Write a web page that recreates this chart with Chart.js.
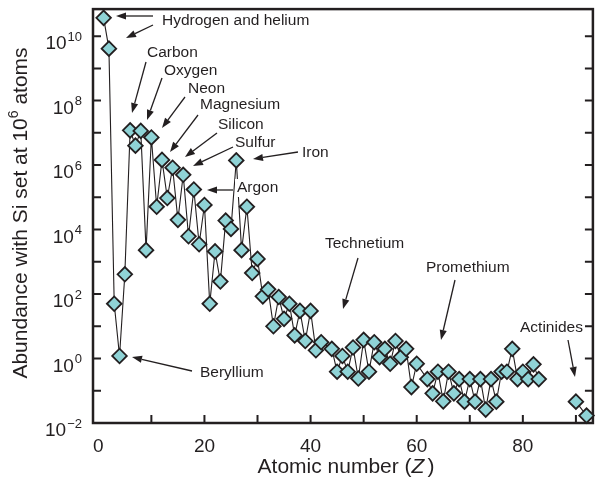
<!DOCTYPE html>
<html>
<head>
<meta charset="utf-8">
<script src="https://cdn.jsdelivr.net/npm/chart.js@4/dist/chart.umd.min.js"></script>
<style>
  body { margin: 0; background: #fff; }
  canvas { display: block; }
</style>
</head>
<body>
<canvas id="abundance" width="602" height="483"></canvas>
<script>
// Solar-system abundances, Si = 10^6 atoms. Tc (43) and Pm (61) have none.
const atomicNumbers = [
  1, 2, 3, 4, 5, 6, 7, 8, 9, 10, 11, 12, 13, 14, 15, 16, 17, 18, 19, 20,
  21, 22, 23, 24, 25, 26, 27, 28, 29, 30, 31, 32, 33, 34, 35, 36, 37, 38, 39, 40,
  41, 42, 44, 45, 46, 47, 48, 49, 50, 51, 52, 53, 54, 55, 56, 57, 58, 59, 60,
  62, 63, 64, 65, 66, 67, 68, 69, 70, 71, 72, 73, 74, 75, 76, 77, 78, 79, 80,
  81, 82, 83, 90, 92
];
const abundances = [
  3.7e10, 4.1e9, 50, 1.2, 410, 1.2e7, 4.0e6, 1.15e7, 2300, 7.2e6,
  5.1e4, 1.45e6, 9.5e4, 8.3e5, 2.0e4, 5.0e5, 6200, 1.75e5, 3500, 5.8e4,
  50, 2100, 245, 1.9e4, 1.05e4, 1.4e6, 2300, 5.1e4, 450, 1230,
  85, 140, 10, 81, 17, 50, 5.2, 30, 3.5, 30,
  1.8, 3.2, 2.0, 0.39, 1.2, 0.39, 2.2, 0.24, 3.8, 0.39,
  3.2, 1.1, 2.0, 0.69, 3.5, 1.1, 2.0, 0.13, 0.69,
  0.23, 0.083, 0.39, 0.047, 0.39, 0.083, 0.23, 0.046, 0.23, 0.046,
  0.23, 0.026, 0.23, 0.046, 0.39, 0.39, 2.0, 0.23, 0.39,
  0.23, 0.66, 0.23, 0.046, 0.017
];

const xTicks = [0, 20, 40, 60, 80];
const yTickExponents = [-2, 0, 2, 4, 6, 8, 10];

// callouts: text (left, middle) and arrows [fromX, fromY, toX, toY]
const callouts = [
  { text: 'Hydrogen and helium', x: 162, y: 21, arrows: [[153, 16, 116, 16], [153, 25, 126, 38]] },
  { text: 'Carbon', x: 147, y: 53, arrows: [[146, 62, 132, 113]] },
  { text: 'Oxygen', x: 164, y: 71, arrows: [[162, 78, 147, 120]] },
  { text: 'Neon', x: 188, y: 89, arrows: [[185, 97, 162, 128]] },
  { text: 'Magnesium', x: 200, y: 105, arrows: [[198, 115, 170, 152]] },
  { text: 'Silicon', x: 218, y: 125, arrows: [[217, 133, 185, 157]] },
  { text: 'Sulfur', x: 235, y: 143, arrows: [[233, 147, 193, 166]] },
  { text: 'Iron', x: 302, y: 153, arrows: [[298, 152, 253, 159]] },
  { text: 'Argon', x: 237, y: 188, arrows: [[233, 190, 207, 190]] },
  { text: 'Technetium', x: 325, y: 244, arrows: [[358, 258, 343, 309]] },
  { text: 'Promethium', x: 426, y: 268, arrows: [[455, 280, 441, 340]] },
  { text: 'Actinides', x: 520, y: 328, arrows: [[568, 340, 575, 377]] },
  { text: 'Beryllium', x: 200, y: 373, arrows: [[192, 371, 132, 357]] }
];

const ink = '#231f20';
const face = 'Liberation Sans, Arial, Helvetica, sans-serif';

// break the line across the missing run between Bi and Th
const points = [];
atomicNumbers.forEach((z, i) => {
  if (i > 0 && z - atomicNumbers[i - 1] > 2) points.push({ x: z - 1, y: null });
  points.push({ x: z, y: abundances[i] });
});

function arrow(ctx, x1, y1, x2, y2) {
  const a = Math.atan2(y2 - y1, x2 - x1);
  const len = 10, half = 3.6;
  const bx = x2 - len * Math.cos(a), by = y2 - len * Math.sin(a);
  ctx.beginPath();
  ctx.moveTo(x1, y1);
  ctx.lineTo(bx, by);
  ctx.stroke();
  ctx.beginPath();
  ctx.moveTo(x2, y2);
  ctx.lineTo(bx + half * Math.sin(a), by - half * Math.cos(a));
  ctx.lineTo(bx - half * Math.sin(a), by + half * Math.cos(a));
  ctx.closePath();
  ctx.fill();
}

// draws "base" followed by a raised superscript, right edge at x
function powerLabel(ctx, base, sup, right, y) {
  ctx.font = '19px ' + face;
  const wb = ctx.measureText(base).width;
  ctx.font = '13px ' + face;
  const ws = ctx.measureText(sup).width;
  const left = right - wb - ws - 1;
  ctx.textAlign = 'left';
  ctx.textBaseline = 'middle';
  ctx.font = '19px ' + face;
  ctx.fillText(base, left, y + 8);
  ctx.font = '13px ' + face;
  ctx.fillText(sup, left + wb + 1, y + 1);
}

const frame = {
  id: 'frame',
  beforeDatasetsDraw(chart) {
    const { ctx, chartArea: a, scales: { x, y } } = chart;
    ctx.save();
    ctx.strokeStyle = ink;
    ctx.fillStyle = ink;
    ctx.lineWidth = 2;
    ctx.beginPath();
    for (let t = 10; t < 93; t += 10) {
      const px = x.getPixelForValue(t);
      ctx.moveTo(px, a.bottom);
      ctx.lineTo(px, a.bottom - 8);
    }
    for (let e = -1; e <= 10; e++) {
      const py = y.getPixelForValue(Math.pow(10, e));
      ctx.moveTo(a.left, py);
      ctx.lineTo(a.left + 8, py);
      ctx.moveTo(a.right, py);
      ctx.lineTo(a.right - 8, py);
    }
    ctx.stroke();
    ctx.lineWidth = 2.5;
    ctx.strokeRect(a.left, a.top, a.right - a.left, a.bottom - a.top);

    ctx.font = '19px ' + face;
    ctx.textAlign = 'center';
    ctx.textBaseline = 'middle';
    xTicks.forEach(t => ctx.fillText(String(t), x.getPixelForValue(t), 447));
    yTickExponents.forEach(e => {
      const sup = e < 0 ? '\u2212' + (-e) : String(e);
      powerLabel(ctx, '10', sup, 82, y.getPixelForValue(Math.pow(10, e)));
    });

    // x title with italic Z
    const parts = [['Atomic number (', '21px '], ['Z', 'italic 21px '], [')', '21px ']];
    let total = 0;
    parts.forEach(p => { ctx.font = p[1] + face; total += ctx.measureText(p[0]).width + (p[0] === 'Z' ? 3 : 0); });
    let cx = 346 - total / 2;
    ctx.textAlign = 'left';
    parts.forEach(p => {
      ctx.font = p[1] + face;
      ctx.fillText(p[0], cx, 467);
      cx += ctx.measureText(p[0]).width + (p[0] === 'Z' ? 3 : 0);
    });

    // y title, rotated, with superscript 6
    ctx.translate(19, 213);
    ctx.rotate(-Math.PI / 2);
    const t1 = 'Abundance with Si set at 10', t2 = '6', t3 = ' atoms';
    ctx.font = '21px ' + face;
    const w1 = ctx.measureText(t1).width, w3 = ctx.measureText(t3).width;
    ctx.font = '14px ' + face;
    const w2 = ctx.measureText(t2).width;
    let sx = -(w1 + w2 + w3) / 2;
    ctx.font = '21px ' + face;
    ctx.fillText(t1, sx, 2);
    ctx.font = '14px ' + face;
    ctx.fillText(t2, sx + w1, -5);
    ctx.font = '21px ' + face;
    ctx.fillText(t3, sx + w1 + w2, 2);
    ctx.restore();
  },
  afterDatasetsDraw(chart) {
    const { ctx } = chart;
    ctx.save();
    ctx.font = '15.5px ' + face;
    ctx.textAlign = 'left';
    ctx.textBaseline = 'middle';
    ctx.strokeStyle = ink;
    ctx.fillStyle = ink;
    ctx.lineWidth = 1.3;
    callouts.forEach(c => {
      const w = ctx.measureText(c.text).width;
      ctx.fillStyle = '#fff';
      ctx.fillRect(c.x - 2, c.y - 9, w + 4, 18);
      ctx.fillStyle = ink;
      ctx.fillText(c.text, c.x, c.y);
      c.arrows.forEach(ar => arrow(ctx, ar[0], ar[1], ar[2], ar[3]));
    });
    ctx.restore();
  }
};

new Chart(document.getElementById('abundance').getContext('2d'), {
  type: 'line',
  data: {
    datasets: [
      {
        data: points,
        borderColor: ink,
        borderWidth: 1.1,
        pointStyle: 'rectRot',
        pointRadius: 7.3,
        pointBackgroundColor: '#8fd3d6',
        pointBorderColor: ink,
        pointBorderWidth: 1.8,
        spanGaps: false,
        clip: false,
      },
    ],
  },
  options: {
    responsive: false,
    devicePixelRatio: 1,
    animation: false,
    layout: {
      padding: { left: 93, right: 3, top: 8, bottom: 60 },
    },
    plugins: {
      legend: { display: false },
      tooltip: { enabled: false },
    },
    scales: {
      x: {
        type: 'linear',
        min: -1,
        max: 93.2,
        display: false,
      },
      y: {
        type: 'logarithmic',
        min: 0.01,
        max: 6.9e10,
        display: false,
      },
    },
  },
  plugins: [frame],
});
</script>
</body>
</html>
